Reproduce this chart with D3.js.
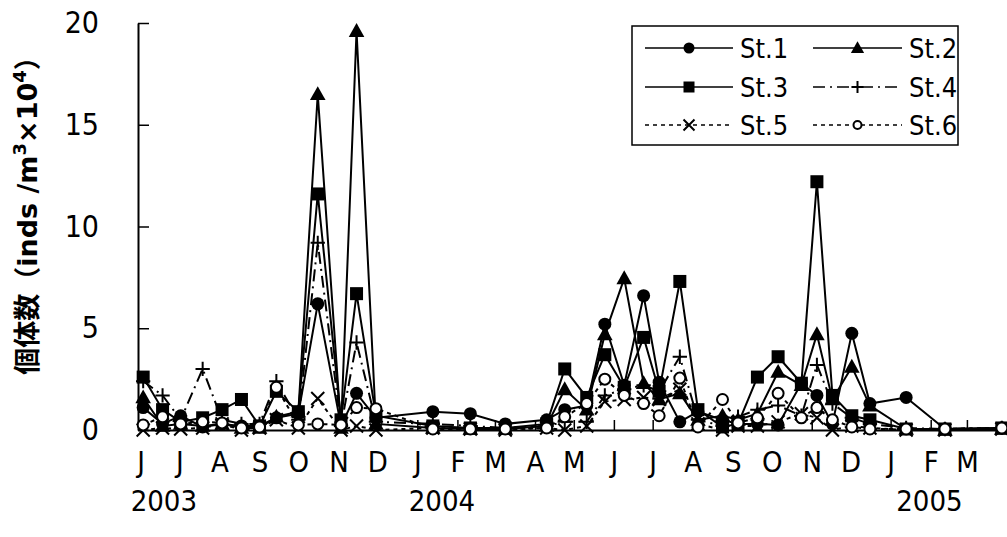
<!DOCTYPE html>
<html>
<head>
<meta charset="utf-8">
<script src="https://cdn.jsdelivr.net/npm/d3@7"></script>
<style>
  html, body { margin: 0; padding: 0; background: #fff; }
  svg { display: block; }
</style>
</head>
<body>
<svg id="chart" width="1007" height="537"></svg>
<script>
// Sampling dates (semi-monthly surveys, Jun 2003 – Mar 2005)
const sampleDates = [
  "2003-06-03","2003-06-18","2003-07-02","2003-07-19","2003-08-03","2003-08-18",
  "2003-09-01","2003-09-14","2003-10-01","2003-10-16","2003-11-03","2003-11-15",
  "2003-11-30","2004-01-13","2004-02-11","2004-03-09","2004-04-10","2004-04-24",
  "2004-05-11","2004-05-25","2004-06-09","2004-06-24","2004-07-06","2004-07-22",
  "2004-08-05","2004-08-24","2004-09-05","2004-09-20","2004-10-06","2004-10-24",
  "2004-11-05","2004-11-17","2004-12-02","2004-12-16","2005-01-13","2005-02-12",
  "2005-03-28"
];

// Abundance (inds/m3 x 10^4) per station
const st1 = [1.1,0.3,0.7,0.15,0.3,0.2,0.2,0.6,0.8,6.2,0.2,1.8,0.6,0.9,0.8,0.3,0.5,1.0,1.2,5.2,2.2,6.6,2.35,0.4,0.9,0.5,0.3,0.3,0.25,2.3,1.7,0.3,4.75,1.3,1.6,0.05,0.1];
const st2 = [1.6,0.2,0.3,0.2,0.3,0.1,0.1,0.65,0.9,16.5,0.1,19.6,0.3,0.1,0.05,0.05,0.2,2.0,1.0,4.7,7.45,2.3,1.5,1.8,0.5,0.7,0.5,0.8,2.85,2.2,4.7,1.5,3.1,1.2,0.05,0.0,0.05];
const st3 = [2.6,1.0,0.4,0.6,1.0,1.5,0.2,1.9,0.9,11.6,0.5,6.7,0.7,0.2,0.1,0.1,0.3,3.0,1.6,3.7,2.1,4.55,1.9,7.3,1.0,0.15,0.3,2.6,3.6,2.3,12.2,1.7,0.7,0.5,0.05,0.05,0.1];
const st4 = [2.4,1.7,0.5,3.0,0.5,0.3,0.3,2.4,0.5,9.2,0.2,4.3,0.4,0.3,0.2,0.1,0.2,0.4,0.4,1.7,2.0,2.2,1.9,3.6,0.5,0.2,0.65,1.0,1.2,0.7,3.2,1.3,0.6,0.3,0.1,0.05,0.1];
const st5 = [0.0,0.1,0.05,0.1,0.3,0.0,0.1,0.5,0.1,1.55,0.0,0.2,0.0,0.1,0.05,0.0,0.1,0.0,0.2,1.4,1.5,1.6,1.5,2.0,0.3,0.0,0.2,0.2,0.4,0.8,0.6,0.0,0.2,0.1,0.0,0.0,0.05];
const st6 = [0.25,0.65,0.3,0.4,0.35,0.1,0.15,2.1,0.25,0.3,0.25,1.1,1.05,0.05,0.05,0.05,0.1,0.65,1.3,2.5,1.7,1.3,0.7,2.55,0.15,1.5,0.35,0.6,1.8,0.6,1.1,0.5,0.15,0.05,0.05,0.05,0.1];

const stationNames = ["St.1","St.2","St.3","St.4","St.5","St.6"];
const monthLabels = ["J","J","A","S","O","N","D","J","F","M","A","M","J","J","A","S","O","N","D","J","F","M"];
const yearLabels = ["2003","2004","2005"];
const yearLabelDates = ["2003-06-19","2004-01-20","2005-01-31"];
const yTicks = [0,5,10,15,20];

const parse = d3.utcParse("%Y-%m-%d");
const dates = sampleDates.map(parse);

const svg = d3.select("#chart");
const FONT = "'DejaVu Sans Condensed','DejaVu Sans',sans-serif";

const x = d3.scaleUtc()
  .domain([Date.UTC(2003,4,30), Date.UTC(2005,3,1)])
  .range([138, 1007]);
const y = d3.scaleLinear().domain([0,20]).range([430, 23]);

// axes
const monthStarts = d3.utcMonth.range(Date.UTC(2003,5,1), Date.UTC(2005,3,1));
const xAxis = d3.axisBottom(x).tickValues(monthStarts).tickSizeInner(-10).tickSizeOuter(0)
  .tickFormat((d,i) => monthLabels[i]).tickPadding(21);
const gx = svg.append("g").attr("transform", `translate(0,${y(0)})`).call(xAxis);
gx.select(".domain").attr("stroke","#000").attr("stroke-width",2);
gx.selectAll(".tick line").attr("stroke","#000").attr("stroke-width",1.5);
gx.selectAll(".tick text").attr("font-family",FONT).attr("font-size",29).attr("fill","#000");

const yAxis = d3.axisLeft(y).tickValues(yTicks).tickSizeInner(-11).tickSizeOuter(0).tickPadding(39);
const gy = svg.append("g").attr("transform", `translate(${x.range()[0]},0)`).call(yAxis);
gy.select(".domain").attr("stroke","#000").attr("stroke-width",2);
gy.selectAll(".tick line").attr("stroke","#000").attr("stroke-width",1.5);
gy.selectAll(".tick text").attr("font-family",FONT).attr("font-size",30).attr("fill","#000");

// year labels
svg.append("g").selectAll("text").data(yearLabels).join("text")
  .attr("x",(d,i)=>x(parse(yearLabelDates[i])))
  .attr("y",511)
  .attr("text-anchor","middle")
  .attr("font-family",FONT).attr("font-size",29)
  .text(d=>d);

// y-axis title
const yt = svg.append("text")
  .attr("transform","translate(37,209) rotate(-90)")
  .attr("text-anchor","middle")
  .attr("font-family","'DejaVu Sans','Noto Sans CJK JP',sans-serif")
  .attr("font-weight","bold").attr("font-size",27);
yt.append("tspan").attr("font-family","'Noto Sans CJK JP',sans-serif").text("個体数（");
yt.append("tspan").text("inds /m");
yt.append("tspan").attr("font-size",18).attr("dy",-11).text("3");
yt.append("tspan").attr("dy",11).text("×10");
yt.append("tspan").attr("font-size",18).attr("dy",-11).text("4");
yt.append("tspan").attr("dy",11).attr("font-family","'Noto Sans CJK JP',sans-serif").text("）");

// series styles
const series = [
  {name:stationNames[0], values:st1, dash:null, marker:"circle"},
  {name:stationNames[1], values:st2, dash:null, marker:"triangle"},
  {name:stationNames[2], values:st3, dash:null, marker:"square"},
  {name:stationNames[3], values:st4, dash:"12,5,2,5", marker:"plus"},
  {name:stationNames[4], values:st5, dash:"4,4", marker:"cross"},
  {name:stationNames[5], values:st6, dash:"4,4", marker:"open"}
];

function drawMarker(g, type, cx, cy, s) {
  // s: nominal marker size
  if (type === "circle") {
    g.append("circle").attr("cx",cx).attr("cy",cy).attr("r",s/2).attr("fill","#000");
  } else if (type === "open") {
    g.append("circle").attr("cx",cx).attr("cy",cy).attr("r",s/2-1).attr("fill","#fff").attr("stroke","#000").attr("stroke-width",2);
  } else if (type === "square") {
    g.append("rect").attr("x",cx-s/2).attr("y",cy-s/2).attr("width",s).attr("height",s).attr("fill","#000");
  } else if (type === "triangle") {
    const h = s*1.0;
    g.append("path").attr("d",`M${cx},${cy-h*0.62}L${cx+s*0.6},${cy+h*0.45}L${cx-s*0.6},${cy+h*0.45}Z`).attr("fill","#000");
  } else if (type === "plus") {
    const r = s*0.55;
    g.append("path").attr("d",`M${cx-r},${cy}H${cx+r}M${cx},${cy-r}V${cy+r}`).attr("stroke","#000").attr("stroke-width",2).attr("fill","none");
  } else if (type === "cross") {
    const r = s*0.5;
    g.append("path").attr("d",`M${cx-r},${cy-r}L${cx+r},${cy+r}M${cx-r},${cy+r}L${cx+r},${cy-r}`).attr("stroke","#000").attr("stroke-width",2).attr("fill","none");
  }
}

const line = d3.line().x((d,i)=>x(dates[i])).y(d=>y(d));
const plot = svg.append("g");
series.forEach(s => {
  plot.append("path").datum(s.values).attr("d",line)
    .attr("fill","none").attr("stroke","#000").attr("stroke-width",2)
    .attr("stroke-dasharray", s.dash);
});
series.forEach(s => {
  const g = plot.append("g");
  s.values.forEach((v,i) => drawMarker(g, s.marker, x(dates[i]), y(v), 13));
});

// legend
const lg = svg.append("g");
lg.append("rect").attr("x",632).attr("y",26).attr("width",326).attr("height",119)
  .attr("fill","#fff").attr("stroke","#000").attr("stroke-width",1.5);
const legPos = [
  {x0:645,x1:733,tx:740,cy:48},{x0:813,x1:902,tx:909,cy:48},
  {x0:645,x1:733,tx:740,cy:87},{x0:813,x1:902,tx:909,cy:87},
  {x0:645,x1:733,tx:740,cy:125},{x0:813,x1:902,tx:909,cy:125}
];
series.forEach((s,i) => {
  const p = legPos[i];
  lg.append("line").attr("x1",p.x0).attr("x2",p.x1).attr("y1",p.cy).attr("y2",p.cy)
    .attr("stroke","#000").attr("stroke-width",1.5).attr("stroke-dasharray", s.dash);
  drawMarker(lg, s.marker, (p.x0+p.x1)/2, p.cy, s.marker==="open"?10:11);
  lg.append("text").attr("x",p.tx).attr("y",p.cy+10)
    .attr("font-family",FONT).attr("font-size",27).text(s.name);
});
</script>
</body>
</html>
